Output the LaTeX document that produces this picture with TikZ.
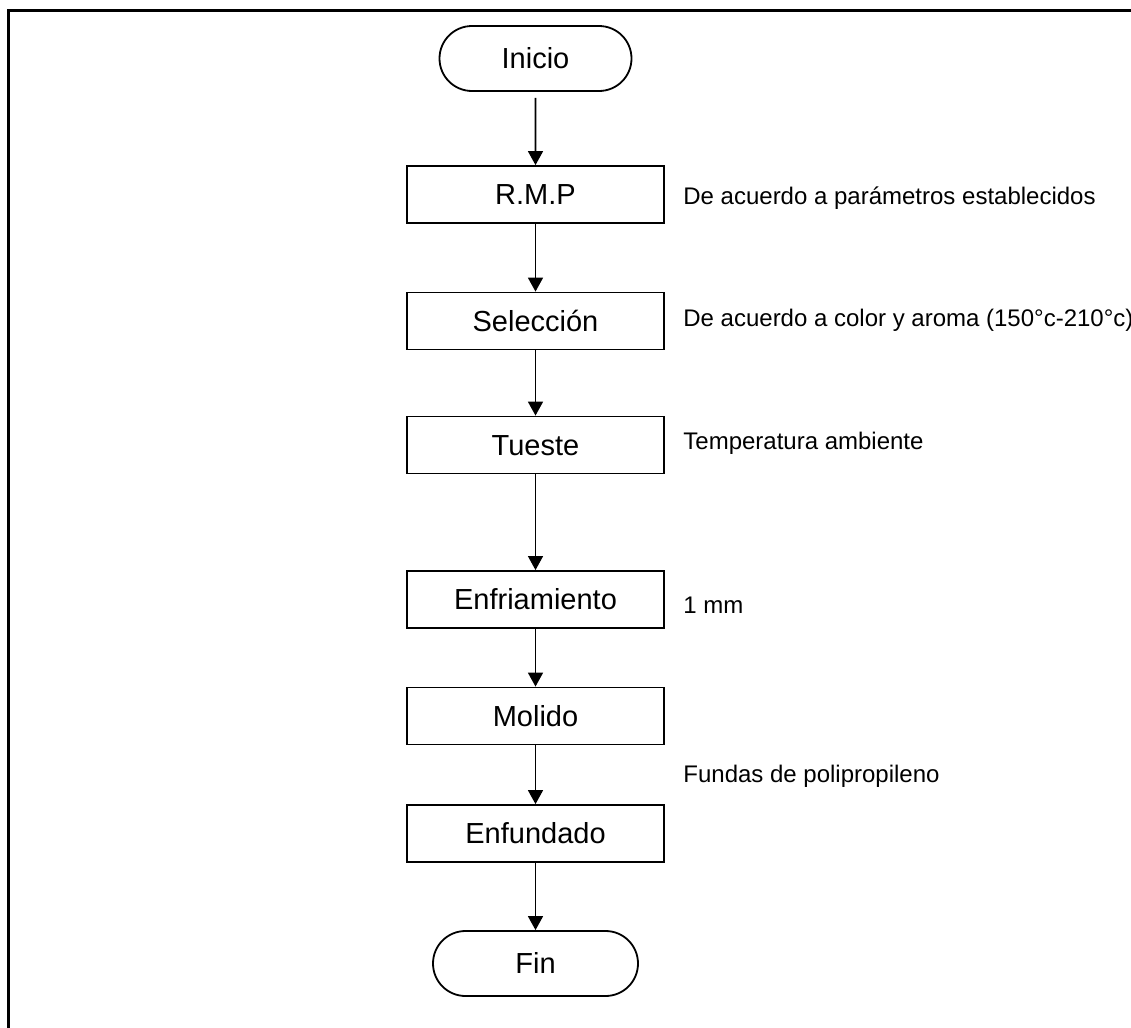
\documentclass[tikz,border=0pt]{standalone}
\usepackage{fontspec}
\setmainfont{Liberation Sans}
\usetikzlibrary{arrows.meta}
\usetikzlibrary{shapes.misc}

\tikzset{
  paso/.style={draw,line width=0.9pt,rectangle,minimum width=128.5pt,minimum height=28.5pt,inner sep=0pt,
    font=\fontsize{14.5}{17}\selectfont,text height=10.4pt,text depth=0pt},
  terminal/.style={draw,line width=0.9pt,rounded rectangle,minimum height=32.5pt,inner sep=0pt,
    font=\fontsize{14.5}{17}\selectfont,text height=10.4pt,text depth=0pt},
  nota/.style={anchor=west,inner sep=0pt,font=\fontsize{12}{14}\selectfont,text height=8.6pt,text depth=0pt},
  flecha/.style={-{Triangle[width=7.5pt,length=7pt]},line width=0.8pt}
}

\begin{document}
\begin{tikzpicture}[x=0.5pt,y=-0.5pt]
\useasboundingbox (0,0) rectangle (1131,1028);
% marco
\draw[line width=1.25pt] (8.7,1045)--(8.7,10.5)--(1145,10.5);

% pasos
\node[terminal,minimum width=96pt] (inicio) at (535.5,58.5) {Inicio};
\node[paso] (rmp) at (535.5,194.5) {R.M.P};
\node[paso] (seleccion) at (535.5,321) {Selección};
\node[paso] (tueste) at (535.5,445) {Tueste};
\node[paso] (enfriamiento) at (535.5,599.5) {Enfriamiento};
\node[paso] (molido) at (535.5,716) {Molido};
\node[paso] (enfundado) at (535.5,833.5) {Enfundado};
\node[terminal,minimum width=102.5pt] (fin) at (535.5,963.5) {Fin};

% notas
\node[nota] (n1) at (683,196) {De acuerdo a parámetros establecidos};
\node[nota] (n2) at (683,318) {De acuerdo a color y aroma (150°c-210°c)};
\node[nota] (n3) at (683,441) {Temperatura ambiente};
\node[nota] (n4) at (683,605) {1 mm};
\node[nota] (n5) at (683,773.5) {Fundas de polipropileno};

% flechas
\draw[flecha,shorten <=3pt] (inicio)--(rmp);
\draw[flecha] (rmp)--(seleccion);
\draw[flecha] (seleccion)--(tueste);
\draw[flecha,line width=0.6pt] (tueste)--(enfriamiento);
\draw[flecha] (enfriamiento)--(molido);
\draw[flecha] (molido)--(enfundado);
\draw[flecha] (enfundado)--(fin);
\end{tikzpicture}
\end{document}
